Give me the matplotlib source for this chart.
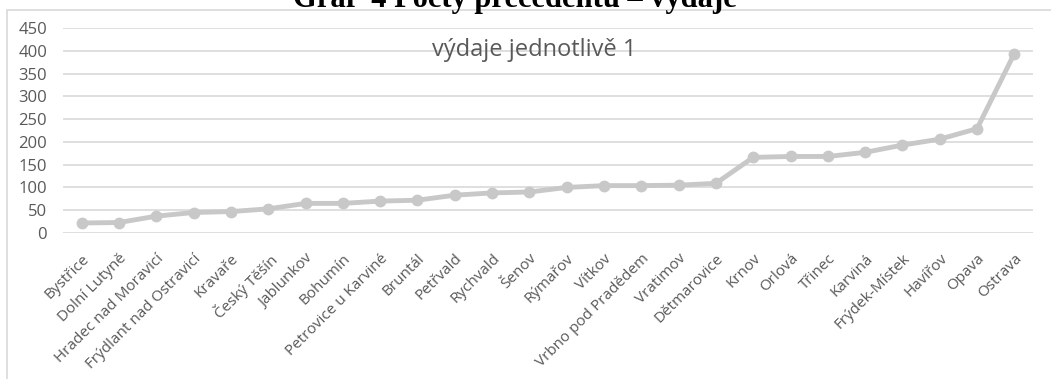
import matplotlib.pyplot as plt
from matplotlib.patches import Rectangle

# data
mesta = ['Bystřice', 'Dolní Lutyně', 'Hradec nad Moravicí', 'Frýdlant nad Ostravicí',
         'Kravaře', 'Český Těšín', 'Jablunkov', 'Bohumín', 'Petrovice u Karviné',
         'Bruntál', 'Petřvald', 'Rychvald', 'Šenov', 'Rýmařov', 'Vítkov',
         'Vrbno pod Pradědem', 'Vratimov', 'Dětmarovice', 'Krnov', 'Orlová',
         'Třinec', 'Karviná', 'Frýdek-Místek', 'Havířov', 'Opava', 'Ostrava']
vydaje = [22, 23, 37, 45, 47, 53, 65, 65, 70, 72, 83, 88, 90, 100, 104, 104,
          105, 109, 166, 168, 168, 177, 193, 206, 229, 394]
y_ticks = [0, 50, 100, 150, 200, 250, 300, 350, 400, 450]

W, H = 1051, 379
fig = plt.figure(figsize=(W / 100, H / 100), dpi=100)

# chart frame (cut off on right and bottom like the reference)
fig.patches.append(Rectangle((7 / W, -0.05), 1.1, 1 - 10 / H + 0.05,
                             transform=fig.transFigure, fill=False,
                             edgecolor='#d9d9d9', linewidth=1.2))

ax = fig.add_axes([63 / W, 1 - 233 / H, (1033 - 63) / W, (233 - 28) / H])
x = range(len(mesta))
ax.plot(x, vydaje, color='#c8c8c8', linewidth=3.5, marker='o',
        markersize=8.5, markeredgewidth=0, zorder=3)

ax.set_xlim(-0.5, len(mesta) - 0.5)
ax.set_ylim(0, 450)
ax.set_yticks(y_ticks)
ax.set_yticklabels([str(v) for v in y_ticks], fontsize=12, color='#595959',
                   family='Open Sans')
ax.set_xticks(list(x))
ax.set_xticklabels(mesta, rotation=45, ha='right', rotation_mode='anchor',
                   fontsize=11, color='#595959', family='Open Sans')
ax.tick_params(axis='both', length=0)
ax.tick_params(axis='y', pad=11.5)
ax.tick_params(axis='x', pad=13)
ax.grid(axis='y', color='#d9d9d9', linewidth=1.2)
ax.set_axisbelow(True)
for s in ax.spines.values():
    s.set_visible(False)

ax.text((534 - 63) / (1033 - 63), 0.893, 'výdaje jednotlivě 1',
        transform=ax.transAxes, ha='center', va='center', fontsize=17,
        color='#595959', family='Open Sans')

fig.text(515 / W, 1 - 7 / H, 'Graf  4 Počty precedentů – výdaje', ha='center',
         va='baseline', fontsize=22, fontweight='bold', family='Liberation Serif')

fig.savefig('out.png', dpi=100)
